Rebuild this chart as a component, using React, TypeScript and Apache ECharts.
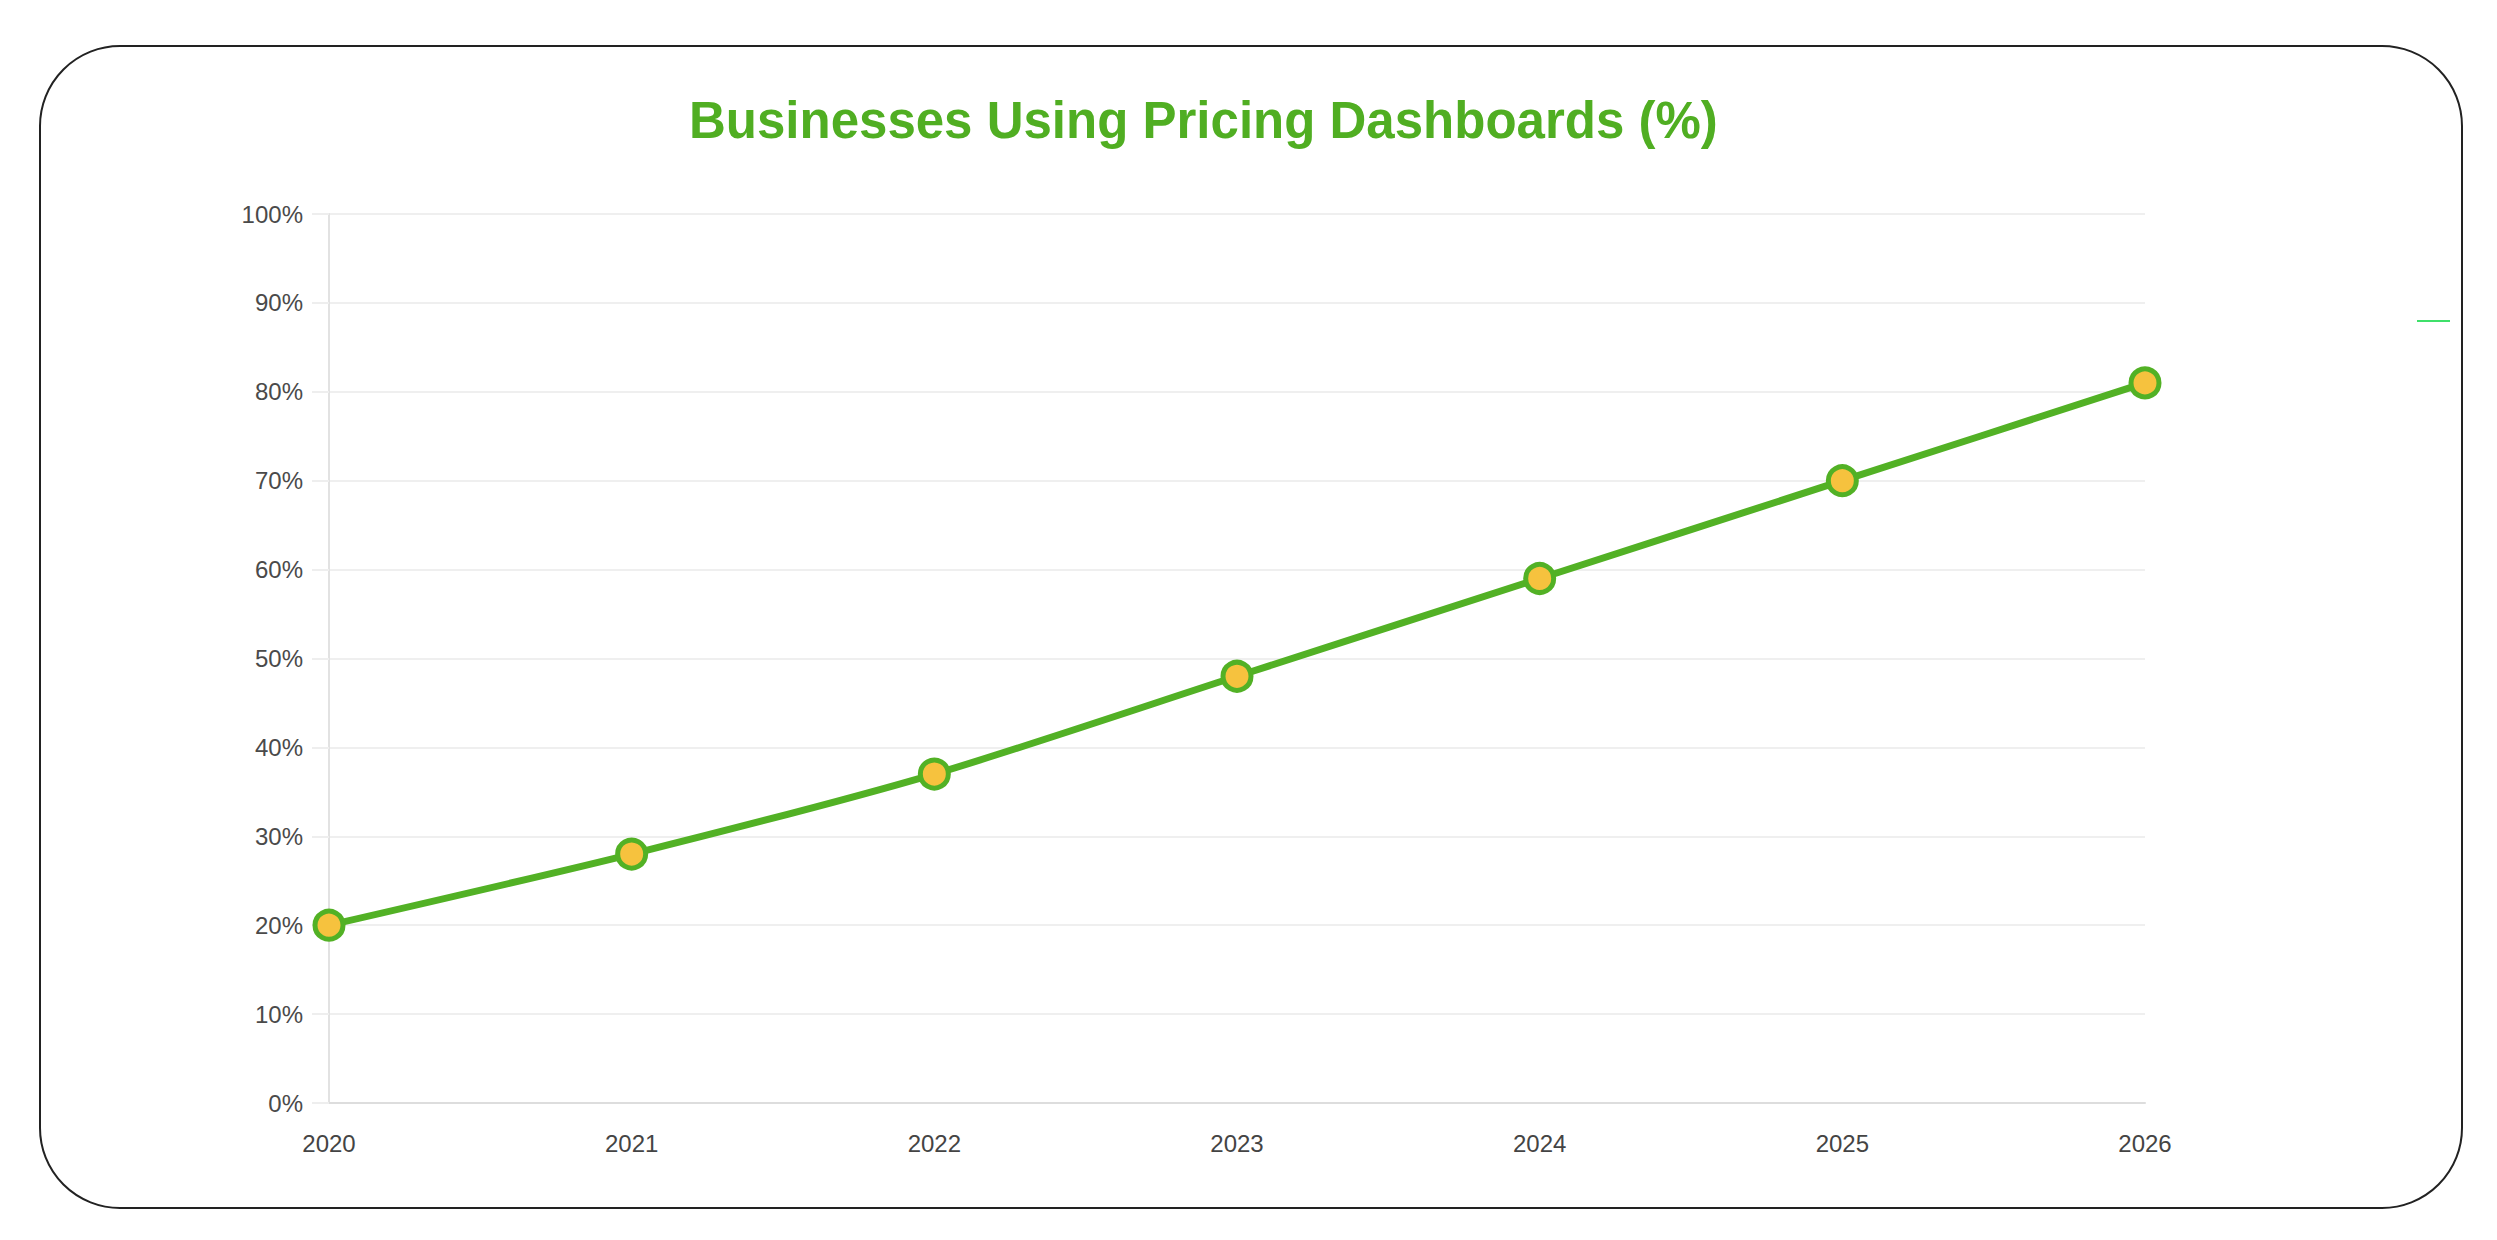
import React, { useEffect, useRef } from "react";
import * as echarts from "echarts";

const years = ["2020", "2021", "2022", "2023", "2024", "2025", "2026"];
const usagePct = [20, 28, 37, 48, 59, 70, 81];
const titleText = "Businesses Using Pricing Dashboards (%)";

export default function App() {
  const ref = useRef<HTMLDivElement>(null);
  useEffect(() => {
    if (!ref.current) return;
    const chart = echarts.init(ref.current, undefined, { renderer: "svg" });
    chart.setOption({
      animation: false,
      backgroundColor: "#ffffff",
      title: {
        text: titleText,
        left: 684,
        top: 90,
        textStyle: {
          fontFamily: "Liberation Sans, Arial, sans-serif",
          fontSize: 51,
          fontWeight: "bold",
          color: "#50ae22",
        },
      },
      graphic: [
        {
          type: "rect",
          shape: { x: 40, y: 46, width: 2422, height: 1162, r: 80 },
          style: { fill: "none", stroke: "#222222", lineWidth: 2 },
          silent: true,
        },
        {
          type: "line",
          shape: { x1: 2417, y1: 321, x2: 2450, y2: 321 },
          style: { stroke: "#3fe06a", lineWidth: 2 },
          silent: true,
        },
      ],
      grid: { left: 329, right: 352, top: 214, bottom: 137, containLabel: false },
      xAxis: {
        type: "category",
        data: years,
        boundaryGap: false,
        axisLine: { show: true, lineStyle: { color: "#dddddd", width: 2 } },
        axisTick: { show: false },
        splitLine: { show: false },
        axisLabel: {
          margin: 28,
          fontFamily: "Liberation Sans, Arial, sans-serif",
          fontSize: 24,
          color: "#444444",
        },
      },
      yAxis: {
        type: "value",
        min: 0,
        max: 100,
        interval: 10,
        axisLine: { show: true, lineStyle: { color: "#e2e2e2", width: 2 } },
        axisTick: { show: true, length: 17, lineStyle: { color: "#eeeeee", width: 2 } },
        splitLine: { show: true, lineStyle: { color: "#efefef", width: 2 } },
        axisLabel: {
          margin: 26,
          formatter: "{value}%",
          fontFamily: "Liberation Sans, Arial, sans-serif",
          fontSize: 24,
          color: "#4a4a4a",
        },
      },
      series: [
        {
          type: "line",
          data: usagePct,
          smooth: 0.25,
          symbol: "circle",
          symbolSize: 28,
          lineStyle: { color: "#52b125", width: 7 },
          itemStyle: { color: "#f6c23e", borderColor: "#52b125", borderWidth: 5 },
        },
      ],
    });
    return () => chart.dispose();
  }, []);
  return (
    <div
      ref={ref}
      style={{ position: "fixed", left: 0, top: 0, width: 2497, height: 1240, background: "#fff" }}
    />
  );
}
